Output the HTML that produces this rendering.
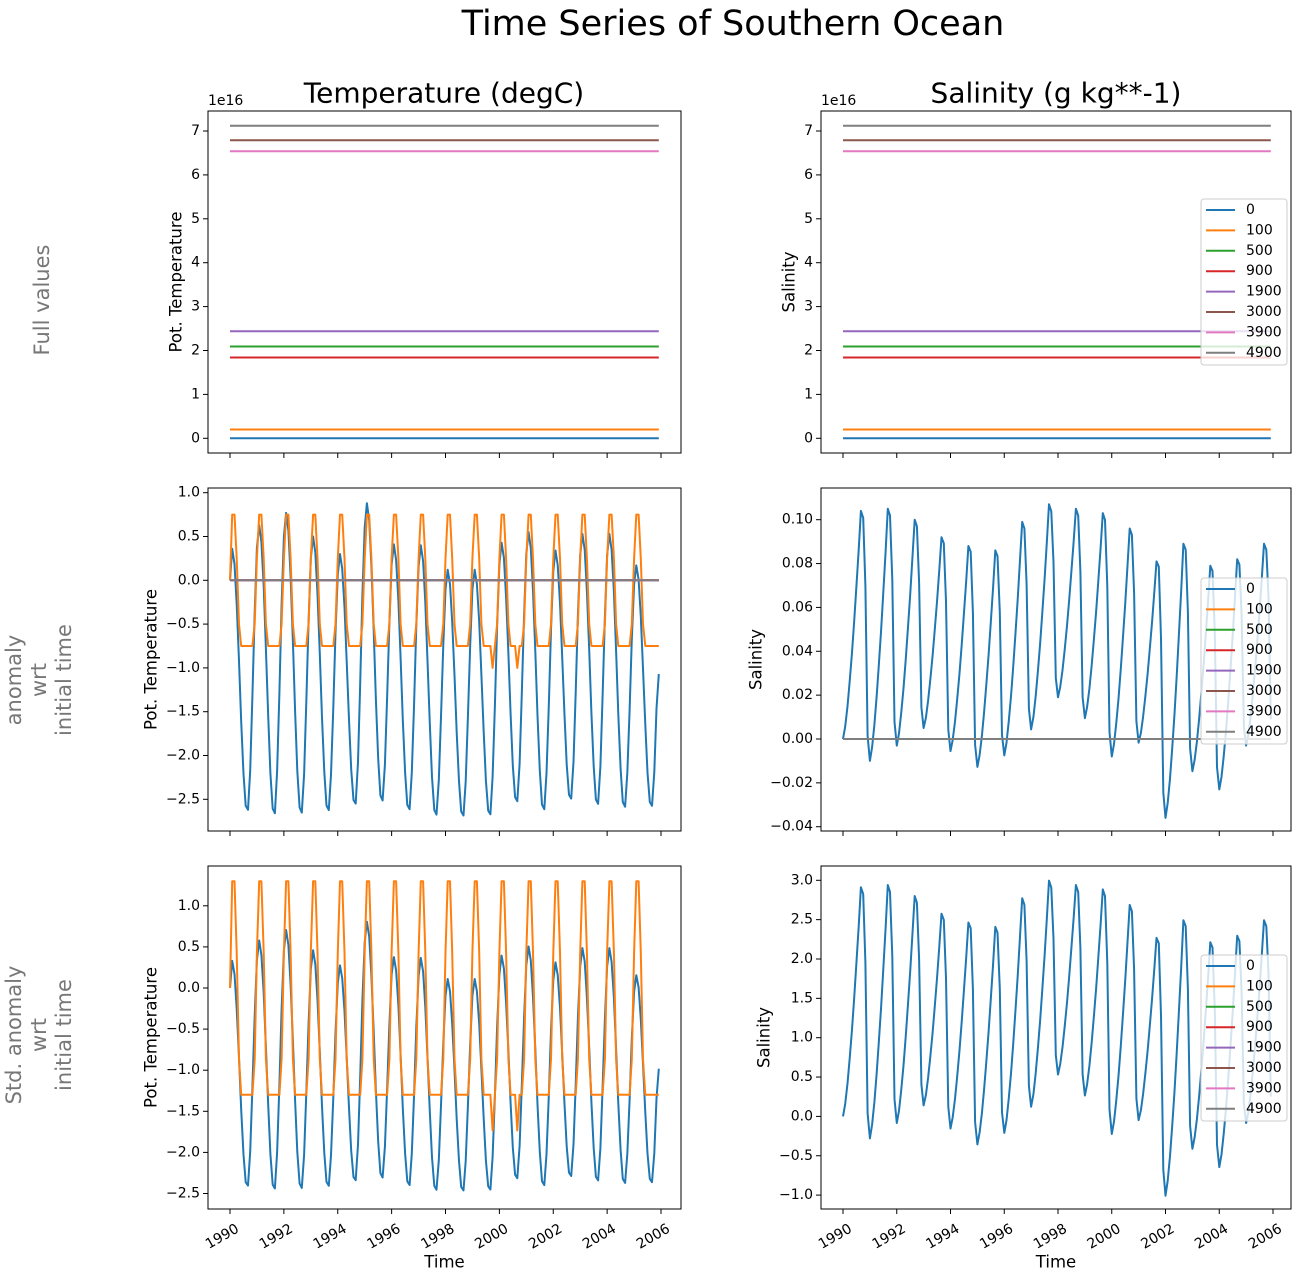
<!DOCTYPE html>
<html><head><meta charset="utf-8"><style>
body{margin:0;background:#fff}
svg{display:block;font-family:"DejaVu Sans","Liberation Sans",sans-serif}
</style></head><body>
<svg id="s" width="1304" height="1281" xmlns="http://www.w3.org/2000/svg"></svg>
<script>
const S=document.getElementById('s');let h='';
const C=['#1f77b4','#ff7f0e','#2ca02c','#d62728','#9467bd','#8c564b','#e377c2','#7f7f7f'];
const names=['0','100','500','900','1900','3000','3900','4900'];
function txt(x,y,t,o){o=o||{};h+=`<text x="${x}" y="${y}" font-size="${o.fs||14}" fill="${o.fill||'#000'}" text-anchor="${o.a||'start'}"${o.tr?` transform="${o.tr}"`:''} dominant-baseline="${o.db||'central'}">${t}</text>`;}
function line(pts,c,w){h+=`<polyline fill="none" stroke="${c}" stroke-width="${w||2}" stroke-linejoin="round" points="${pts.map(p=>p[0].toFixed(1)+','+p[1].toFixed(1)).join(' ')}"/>`;}
const N=192;
const pk=[0.36,0.63,0.77,0.5,0.3,0.88,0.41,0.4,0.12,0.12,0.43,0.55,0.34,0.53,0.53,0.17,0.2];
const tr=[-2.65,-2.69,-2.68,-2.65,-2.58,-2.54,-2.64,-2.7,-2.71,-2.7,-2.55,-2.64,-2.52,-2.58,-2.61,-2.6];
function tb(t){
 const y=Math.floor(t),f=t-y;
 const pT=0.08,tT=0.64;
 let a,b,s;
 if(f<pT){a=tr[y-1]!==undefined?tr[y-1]:-1;b=pk[y];s=(f+1-tT)/(1+pT-tT);}
 else if(f<tT){a=pk[y];b=tr[y];s=(f-pT)/(tT-pT);}
 else {a=tr[y];b=pk[y+1];s=(f-tT)/(1+pT-tT);}
 return a+(b-a)*(1-Math.cos(Math.PI*s))/2;
}
const TB=[],TO=[];
const opat=[0.25,0.75,0.75,0.25,-0.5,-0.75,-0.75,-0.75,-0.75,-0.75,-0.75,-0.5];
for(let i=0;i<N;i++){
 TB.push(i==0?0:tb(i/12));
 let o=opat[i%12]; if(i==0)o=0;
 if(i==117||i==128)o=-1.0; if(i==116||i==118||i==127||i==129)o=-0.75;
 TO.push(o);
}
TB[N-1]=-1.07;TO[N-1]=-0.75;
const spk=[0.104,0.105,0.100,0.092,0.088,0.086,0.099,0.107,0.105,0.103,0.096,0.081,0.089,0.079,0.082,0.089];
const str=[-0.010,-0.003,0.005,-0.0055,-0.0127,-0.0075,0.0044,0.019,0.0095,-0.008,-0.0017,-0.036,-0.0147,-0.023,-0.003,0.009];
const SB=[];
for(let i=0;i<N;i++){
 const y=Math.floor(i/12),m=i%12;const t0=y==0?0:str[y-1],p=spk[y],t1=str[y];
 let v;
 if(m<=8){const s=m/8;v=t0+(p-t0)*Math.pow(s,1.4);}
 else if(m==9)v=p*0.97;
 else if(m==10)v=t1+(p-t1)*0.7;
 else v=t1+(p-t1)*0.1;
 SB.push(v);
}
SB[N-1]=0.009;
function panel(X0,X1,Y0,Y1,xa,xb,ticks,ym,labels,series,opts){
 const xm=i=>xa+(xb-xa)*(i/12)/16;
 series.forEach(s=>{ if(s.flat!==undefined){line([[xa,ym(s.flat)],[xm(N-1),ym(s.flat)]],s.c);} else line(s.d.map((v,i)=>[xm(i),ym(v)]),s.c);});
 h+=`<rect x="${X0}" y="${Y0}" width="${X1-X0}" height="${Y1-Y0}" fill="none" stroke="#000" stroke-width="1"/>`;
 ticks.forEach((v,k)=>{const y=ym(v);h+=`<line x1="${X0-5}" x2="${X0}" y1="${y}" y2="${y}" stroke="#000"/>`;txt(X0-8,y,labels[k],{a:'end'});});
 for(let k=0;k<9;k++){const x=xa+(xb-xa)*k/8;h+=`<line x1="${x}" x2="${x}" y1="${Y1}" y2="${Y1+5}" stroke="#000"/>`;
  if(opts.xl){txt(x+5,Y1+14,String(1990+2*k),{a:'end',db:'hanging',tr:`rotate(-30 ${x+5} ${Y1+14})`});}}
 if(opts.xl)txt((X0+X1)/2,Y1+53,'Time',{a:'middle',fs:16.5});
 txt(opts.ylx,(Y0+Y1)/2,opts.yl,{a:'middle',fs:16.5,tr:`rotate(-90 ${opts.ylx} ${(Y0+Y1)/2})`});
 if(opts.leg){const ly=opts.leg;h+=`<rect x="1201" y="${ly}" width="86" height="166" rx="3" fill="#fff" fill-opacity="0.8" stroke="#ccc"/>`;
  names.forEach((n,k)=>{const y=ly+11+k*20.4;h+=`<line x1="1206" x2="1235" y1="${y}" y2="${y}" stroke="${C[k]}" stroke-width="2"/>`;txt(1246,y,n,{fs:14});});}
}
const rng=(a,b,s)=>{const r=[];for(let v=a;v<=b+1e-9;v+=s)r.push(+v.toFixed(4));return r;};
const neg=s=>s.replace('-','\u2212');
const fv=[0,0.2,2.09,1.84,2.44,6.79,6.54,7.12];
const ymT=v=>438.3-v*43.9;
const topS=fv.map((v,k)=>({flat:v,c:C[k]}));
panel(208,681,111,453,230,661,[0,1,2,3,4,5,6,7],ymT,['0','1','2','3','4','5','6','7'],topS,{yl:'Pot. Temperature',ylx:176});
txt(208,101,'1e16',{});
panel(821,1291,111,453,843,1273,[0,1,2,3,4,5,6,7],ymT,['0','1','2','3','4','5','6','7'],topS,{yl:'Salinity',ylx:789,leg:199});
txt(821,101,'1e16',{});
const zeros=[2,3,4,5,6,7].map(k=>({flat:0,c:C[k]}));
const ymM=v=>580.3-v*87.6;
const tt=rng(-2.5,1.0,0.5);
panel(208,681,488,831,230,661,tt,ymM,tt.map(v=>neg(v.toFixed(1))),[{d:TB,c:C[0]},{d:TO,c:C[1]},...zeros],{yl:'Pot. Temperature',ylx:151});
const ymSM=v=>739-v*2193;
const st=rng(-0.04,0.10,0.02);
panel(821,1291,488,831,843,1273,st,ymSM,st.map(v=>neg(v.toFixed(2))),[{d:SB,c:C[0]},{d:SB.map(()=>0),c:C[1]},...zeros],{yl:'Salinity',ylx:756,leg:578});
const ymB=v=>988-v*82.2;
panel(208,681,866,1209,230,661,tt,ymB,tt.map(v=>neg(v.toFixed(1))),[{d:TB.map(v=>v/1.09),c:C[0]},{d:TO.map(v=>v*1.733),c:C[1]}],{yl:'Pot. Temperature',ylx:151,xl:1});
const ymSB=v=>1116.4-v*78.7;
const sb=rng(-1.0,3.0,0.5);
panel(821,1291,866,1209,843,1273,sb,ymSB,sb.map(v=>neg(v.toFixed(1))),[{d:SB.map(v=>v*28),c:C[0]}],{yl:'Salinity',ylx:764,xl:1,leg:955});
txt(733,24,'Time Series of Southern Ocean',{a:'middle',fs:35});
txt(444,93,'Temperature (degC)',{a:'middle',fs:28});
txt(1056,93,'Salinity (g kg**-1)',{a:'middle',fs:28});
const g='#777';
txt(42,300,'Full values',{a:'middle',fs:21,fill:g,tr:'rotate(-90 42 300)'});
h+=`<g transform="rotate(-90 45 680)" fill="${g}" font-size="21" text-anchor="middle"><text x="45" y="656">anomaly</text><text x="45" y="681">wrt</text><text x="45" y="706">initial time</text></g>`;
h+=`<g transform="rotate(-90 45 1035)" fill="${g}" font-size="21" text-anchor="middle"><text x="45" y="1011">Std. anomaly</text><text x="45" y="1036">wrt</text><text x="45" y="1061">initial time</text></g>`;
S.innerHTML=h;
</script>
</body></html>
